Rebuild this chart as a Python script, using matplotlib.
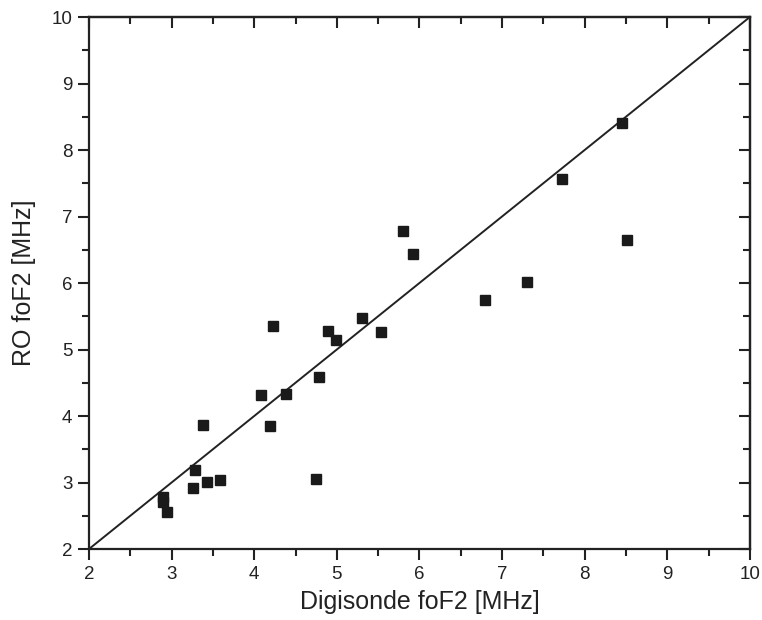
import matplotlib.pyplot as plt
from matplotlib.ticker import MultipleLocator

plt.rcParams['font.family'] = ['Liberation Sans', 'DejaVu Sans']

# Digisonde vs RO foF2 pairs [MHz]
digisonde = [2.90, 2.90, 2.95, 3.26, 3.28, 3.38, 3.43, 3.58, 4.08, 4.19,
             4.23, 4.38, 4.75, 4.79, 4.89, 4.99, 5.30, 5.54, 5.80, 5.92,
             6.80, 7.30, 7.73, 8.45, 8.51]
ro = [2.78, 2.71, 2.55, 2.92, 3.19, 3.87, 3.01, 3.04, 4.31, 3.85,
      5.36, 4.33, 3.05, 4.58, 5.28, 5.15, 5.48, 5.27, 6.78, 6.44,
      5.74, 6.01, 7.57, 8.41, 6.65]
lims = [2, 10]

ink = '#222222'
fig = plt.figure(figsize=(7.62, 6.2), dpi=100)
ax = fig.add_axes([0.1168, 0.1145, 0.8672, 0.858])

ax.plot(lims, lims, color=ink, lw=1.4, zorder=2)
ax.plot(digisonde, ro, 's', color='#1a1a1a', ms=7.5, zorder=3)

ax.set_xlim(lims)
ax.set_ylim(lims)
for a in (ax.xaxis, ax.yaxis):
    a.set_major_locator(MultipleLocator(1))
    a.set_minor_locator(MultipleLocator(0.5))

for s in ax.spines.values():
    s.set_linewidth(1.6)
    s.set_color(ink)

ax.tick_params(which='both', direction='out', color=ink, width=1.5,
               labelsize=13.5, labelcolor=ink, pad=4)
ax.tick_params(which='major', length=8)
ax.tick_params(which='minor', length=5)

# inward ticks on the top and right edges, no labels
top = ax.secondary_xaxis('top')
right = ax.secondary_yaxis('right')
for sec, a in ((top, top.xaxis), (right, right.yaxis)):
    a.set_major_locator(MultipleLocator(1))
    a.set_minor_locator(MultipleLocator(0.5))
    sec.tick_params(which='both', direction='in', color=ink, width=1.5,
                    labelleft=False, labelright=False,
                    labeltop=False, labelbottom=False)
    sec.tick_params(which='major', length=8)
    sec.tick_params(which='minor', length=5)
    for s in sec.spines.values():
        s.set_linewidth(1.6)
        s.set_color(ink)

ax.set_xlabel('Digisonde foF2 [MHz]', fontsize=18, color=ink, labelpad=5)
ax.set_ylabel('RO foF2 [MHz]', fontsize=18, color=ink, labelpad=11)

fig.savefig('out.png', dpi=100, facecolor='white')
